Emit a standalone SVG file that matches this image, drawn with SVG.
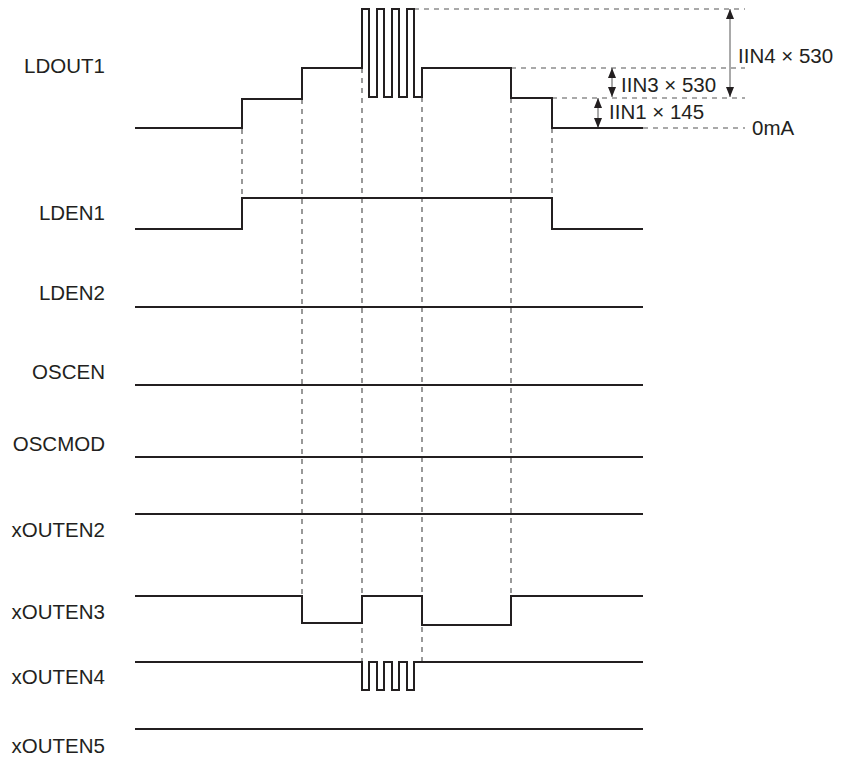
<svg xmlns="http://www.w3.org/2000/svg" width="842" height="758" viewBox="0 0 842 758">
<style>
.sig{fill:none;stroke:#231f20;stroke-width:2}
.dash{fill:none;stroke:#555;stroke-width:1.2;stroke-dasharray:5,5}
.dim{stroke:#555;stroke-width:1}
.lbl{font-family:"Liberation Sans",Arial,sans-serif;font-size:20.5px;fill:#231f20}
.end{text-anchor:end}
</style>
<defs>
<marker id="ah" viewBox="0 0 10 8" refX="10" refY="4" markerWidth="10" markerHeight="8" markerUnits="userSpaceOnUse" orient="auto-start-reverse">
<path d="M0,0 L10,4 L0,8 Z" fill="#231f20"/>
</marker>
</defs>
<rect width="842" height="758" fill="#fff"/>
<g id="connectors">
<path class="dash" d="M242,129 V198 M302,99 V596 M362,68 V662 M422,97 V662 M511,98 V596 M552,128 V198"/>
<path class="dash" d="M414,9 H745 M511,68 H745 M552,98 H745 M643,128 H745"/>
<line class="dim" x1="730" y1="9" x2="730" y2="97" marker-start="url(#ah)" marker-end="url(#ah)"/>
<line class="dim" x1="612" y1="68" x2="612" y2="97" marker-start="url(#ah)" marker-end="url(#ah)"/>
<line class="dim" x1="598" y1="98" x2="598" y2="128" marker-start="url(#ah)" marker-end="url(#ah)"/>
<text class="lbl" x="738" y="63">IIN4 × 530</text>
<text class="lbl" x="621" y="92">IIN3 × 530</text>
<text class="lbl" x="609" y="119">IIN1 × 145</text>
<text class="lbl" x="752" y="135">0mA</text>
</g>
<g id="LDOUT1">
<text class="lbl end" x="105" y="73">LDOUT1</text>
<path class="sig" d="M135,128 H242 V99 H302 V68 H362 V9 H369 V97 H377 V9 H384 V97 H392 V9 H399 V97 H407 V9 H414 V97 H422 V68 H511 V98 H552 V128 H643"/>
</g>
<g id="LDEN1">
<text class="lbl end" x="105" y="220">LDEN1</text>
<path class="sig" d="M135,229 H242 V198 H552 V229 H643"/>
</g>
<g id="LDEN2">
<text class="lbl end" x="105" y="300">LDEN2</text>
<path class="sig" d="M135,307 H643"/>
</g>
<g id="OSCEN">
<text class="lbl end" x="105" y="379">OSCEN</text>
<path class="sig" d="M135,385 H643"/>
</g>
<g id="OSCMOD">
<text class="lbl end" x="105" y="451">OSCMOD</text>
<path class="sig" d="M135,457 H643"/>
</g>
<g id="xOUTEN2">
<text class="lbl end" x="105" y="537">xOUTEN2</text>
<path class="sig" d="M135,514 H643"/>
</g>
<g id="xOUTEN3">
<text class="lbl end" x="105" y="619">xOUTEN3</text>
<path class="sig" d="M135,596 H302 V623 H362 V596 H422 V625 H511 V596 H643"/>
</g>
<g id="xOUTEN4">
<text class="lbl end" x="105" y="684">xOUTEN4</text>
<path class="sig" d="M135,662 H362 V690 H369 V662 H377 V690 H384 V662 H392 V690 H399 V662 H407 V690 H414 V662 H643"/>
</g>
<g id="xOUTEN5">
<text class="lbl end" x="105" y="753">xOUTEN5</text>
<path class="sig" d="M135,729 H643"/>
</g>
</svg>
